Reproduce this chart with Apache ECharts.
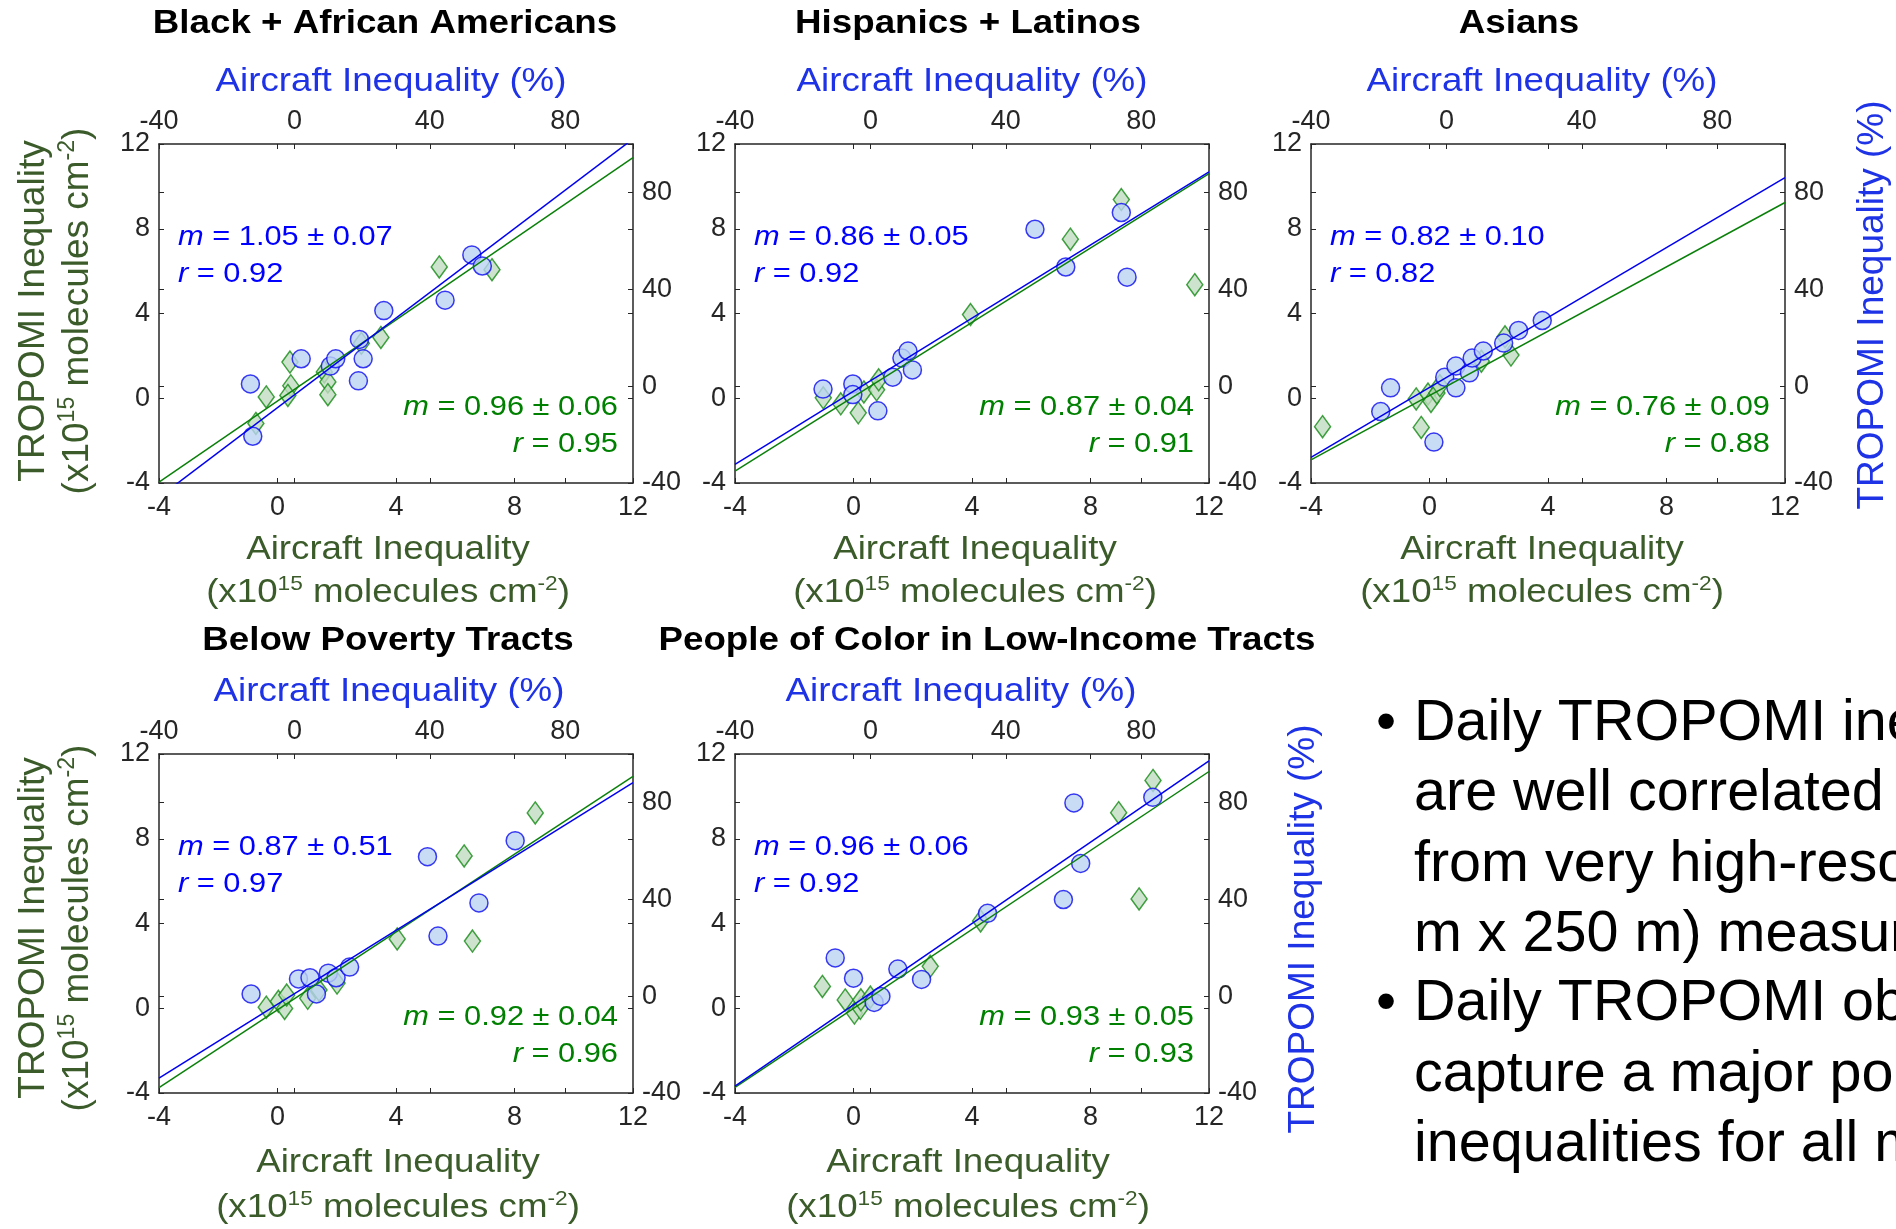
<!DOCTYPE html>
<html><head><meta charset="utf-8">
<script src="https://cdn.jsdelivr.net/npm/echarts@6/dist/echarts.min.js"></script>
<style>html,body{margin:0;padding:0;background:#fff}#c{width:1896px;height:1229px}</style>
</head><body><div id="c"></div>
<script>
// ---------------- DATA ----------------
const panelTitles = ['Black + African Americans', 'Hispanics + Latinos', 'Asians', 'Below Poverty Tracts', 'People of Color in Low-Income Tracts'];
const molTicks = [-4, 0, 4, 8, 12];          // x10^15 molecules cm^-2 (bottom / left axes)
const pctTicks = [-40, 0, 40, 80];           // % (top / right axes)
const pctMax = 100;

// Panel 1: Black + African Americans
const p1GreenX = [-0.73, -0.38, 0.42, 0.45, 0.35, 1.58, 1.70, 1.70, 2.83, 3.49, 5.46, 7.24];
const p1GreenY = [-1.19, 0.06, 1.71, 0.59, 0.13, 1.24, 0.77, 0.17, 2.59, 2.87, 6.20, 6.07];
const p1BlueX  = [-13.0, -12.3, 2.0, 10.6, 12.2, 19.2, 18.9, 20.3, 26.4, 44.5, 52.4, 55.5];
const p1BlueY  = [0.9, -20.7, 11.3, 8.3, 11.3, 19.3, 2.2, 11.3, 31.2, 35.5, 54.2, 49.6];
// Panel 2: Hispanics + Latinos
const p2GreenX = [-1.02, -0.43, 0.16, 0.35, 0.78, 0.85, 3.95, 7.32, 9.04, 11.52];
const p2GreenY = [0.02, -0.26, -0.69, 0.30, 0.40, 0.87, 3.95, 7.51, 9.38, 5.36];
const p2BlueX  = [-14.0, -5.2, -5.2, 2.2, 6.6, 9.3, 11.1, 12.4, 48.6, 57.7, 74.1, 75.8];
const p2BlueY  = [-1.2, 0.9, -3.5, -10.2, 3.7, 11.6, 14.5, 6.7, 64.8, 49.2, 71.7, 45.0];
// Panel 3: Asians
const p3GreenX = [-3.61, -0.45, -0.28, -0.05, 0.05, 0.25, 0.35, 1.75, 2.55, 2.75];
const p3GreenY = [-1.34, -0.03, -1.38, 0.20, -0.15, 0.25, 0.60, 1.75, 2.90, 2.04];
const p3BlueX  = [-19.4, -16.5, -3.7, -0.5, 2.8, 2.8, 6.8, 7.6, 10.9, 16.9, 21.3, 28.3];
const p3BlueY  = [-10.5, -0.7, -23.1, 3.7, 8.3, -0.7, 5.5, 11.6, 14.5, 17.8, 23.0, 27.1];
// Panel 4: Below Poverty Tracts
const p4GreenX = [-0.38, 0.03, 0.24, 0.31, 1.02, 1.40, 2.01, 4.04, 6.30, 6.58, 8.70];
const p4GreenY = [0.05, 0.33, -0.01, 0.62, 0.47, 0.86, 1.19, 3.27, 7.19, 3.17, 9.22];
const p4BlueX  = [-12.8, 1.2, 4.6, 6.5, 10.0, 12.3, 16.3, 39.3, 42.4, 54.5, 65.2];
const p4BlueY  = [0.9, 7.1, 7.6, 0.9, 9.5, 7.6, 12.0, 57.6, 24.8, 38.5, 64.2];
// Panel 5: People of Color in Low-Income Tracts
const p5GreenX = [-1.05, -0.28, 0.03, 0.23, 0.25, 0.57, 2.59, 4.29, 8.95, 9.64, 10.11];
const p5GreenY = [1.03, 0.39, -0.23, 0.00, 0.40, 0.53, 1.98, 4.12, 9.23, 5.16, 10.75];
const p5BlueX  = [-10.4, -5.0, 1.1, 3.1, 8.1, 15.1, 34.6, 57.0, 60.1, 62.1, 83.4];
const p5BlueY  = [15.8, 7.4, -2.6, -0.1, 11.2, 6.9, 34.2, 39.9, 79.8, 54.8, 82.1];

// Fit lines (slope, intercept)
const greenFitSlope = [0.957, 0.878, 0.759, 0.918, 0.932];
const greenFitIntercept = [-0.13, 0.07, 0.13, -0.07, -0.01];
const blueFitSlope = [1.057, 0.863, 0.825, 0.872, 0.960];
const blueFitIntercept = [-3.6, 2.2, 3.6, 1.0, 1.2];

// Annotations: [m, ±, r]
const blueStats  = [['1.05', '0.07', '0.92'], ['0.86', '0.05', '0.92'], ['0.82', '0.10', '0.82'], ['0.87', '0.51', '0.97'], ['0.96', '0.06', '0.92']];
const greenStats = [['0.96', '0.06', '0.95'], ['0.87', '0.04', '0.91'], ['0.76', '0.09', '0.88'], ['0.92', '0.04', '0.96'], ['0.93', '0.05', '0.93']];

const bulletLines = [
  ['• ', 'Daily TROPOMI inequalities'],
  ['', 'are well correlated with those'],
  ['', 'from very high-resolution (250'],
  ['', 'm x 250 m) measurements'],
  ['• ', 'Daily TROPOMI observations'],
  ['', 'capture a major portion of'],
  ['', 'inequalities for all metrics']
];

// ---------------- LAYOUT / STYLE ----------------
const FONT = "'Liberation Sans', Arial, Helvetica, sans-serif";
const FRAME = '#262626';
const BLUE_T = '#1e32e6';
const GREEN_T = '#3b5c2a';
const W = 474, H = 339;
const layout = [
  {left: 159, top: 144, titleX: 385, topTitleX: 391, botTitleX: 388},
  {left: 735, top: 144, titleX: 968, topTitleX: 972, botTitleX: 975},
  {left: 1311, top: 144, titleX: 1519, topTitleX: 1542, botTitleX: 1542},
  {left: 159, top: 754, titleX: 388, topTitleX: 389, botTitleX: 398},
  {left: 735, top: 754, titleX: 987, topTitleX: 961, botTitleX: 968}
];
const panelData = [
  [p1GreenX, p1GreenY, p1BlueX, p1BlueY],
  [p2GreenX, p2GreenY, p2BlueX, p2BlueY],
  [p3GreenX, p3GreenY, p3BlueX, p3BlueY],
  [p4GreenX, p4GreenY, p4BlueX, p4BlueY],
  [p5GreenX, p5GreenY, p5BlueX, p5BlueY]
];

const grids = [], xAxes = [], yAxes = [], series = [], graphics = [];
const molMin = molTicks[0], molMax = molTicks[molTicks.length - 1];
const pctMin = pctTicks[0];

function lbl(show, margin, ticks) {
  return {show: show, fontSize: 27, fontFamily: FONT, color: FRAME, margin: margin,
    formatter: v => (ticks.indexOf(v) >= 0 ? String(v) : '')};
}
const tickSty = {show: true, inside: true, length: 5, lineStyle: {color: FRAME, width: 1}};
function axLine(show) { return {show: show, onZero: false, lineStyle: {color: FRAME, width: 1.5}}; }

function supRich(size) {
  return {
    sup: {fontSize: Math.round(size * 0.62), fontFamily: FONT, verticalAlign: 'top', lineHeight: Math.round(size * 0.62)},
    it: {fontSize: size, fontFamily: FONT, fontStyle: 'italic'}
  };
}
function text(x, y, str, o) {
  o = o || {};
  const size = o.size || 34;
  return {
    type: 'text', x: x, y: y, silent: true, z: 100,
    rotation: o.rot || 0, scaleX: o.sx || 1, scaleY: o.sy || 1,
    style: {
      text: str, fill: o.color || '#000', fontSize: size, fontFamily: FONT,
      fontWeight: o.bold ? 'bold' : 'normal', lineHeight: Math.round(size * 1.15),
      align: o.align || 'center', textAlign: o.align || 'center',
      verticalAlign: 'middle', textVerticalAlign: 'middle',
      rich: supRich(size)
    }
  };
}

panelData.forEach((d, i) => {
  const L = layout[i];
  grids.push({left: L.left, top: L.top, width: W, height: H, containLabel: false, outerBoundsMode: 'none', show: false});
  const base = {type: 'value', gridIndex: i, splitLine: {show: false}, axisPointer: {show: false}};
  // x axes: 4i mol bottom, 4i+1 pct top, 4i+2 mol top mirror, 4i+3 pct bottom mirror
  xAxes.push(Object.assign({}, base, {position: 'bottom', min: molMin, max: molMax, interval: 4,
    axisLine: axLine(true), axisTick: tickSty, axisLabel: lbl(true, 11, molTicks)}));
  xAxes.push(Object.assign({}, base, {position: 'top', min: pctMin, max: pctMax, interval: 40,
    axisLine: axLine(true), axisTick: tickSty, axisLabel: lbl(true, 9, pctTicks)}));
  xAxes.push(Object.assign({}, base, {position: 'top', min: molMin, max: molMax, interval: 4,
    axisLine: axLine(false), axisTick: tickSty, axisLabel: {show: false}}));
  xAxes.push(Object.assign({}, base, {position: 'bottom', min: pctMin, max: pctMax, interval: 40,
    axisLine: axLine(false), axisTick: tickSty, axisLabel: {show: false}}));
  // y axes: 4i mol left, 4i+1 pct right, 4i+2 mol right mirror, 4i+3 pct left mirror
  yAxes.push(Object.assign({}, base, {position: 'left', min: molMin, max: molMax, interval: 4,
    axisLine: axLine(true), axisTick: tickSty, axisLabel: lbl(true, 9, molTicks)}));
  yAxes.push(Object.assign({}, base, {position: 'right', min: pctMin, max: pctMax, interval: 40,
    axisLine: axLine(true), axisTick: tickSty, axisLabel: lbl(true, 9, pctTicks)}));
  yAxes.push(Object.assign({}, base, {position: 'right', min: molMin, max: molMax, interval: 4,
    axisLine: axLine(false), axisTick: tickSty, axisLabel: {show: false}}));
  yAxes.push(Object.assign({}, base, {position: 'left', min: pctMin, max: pctMax, interval: 40,
    axisLine: axLine(false), axisTick: tickSty, axisLabel: {show: false}}));

  const [gx, gy, bx, by] = d;
  series.push({type: 'scatter', silent: true, xAxisIndex: 4 * i, yAxisIndex: 4 * i, z: 2,
    data: gx.map((x, k) => [x, gy[k]]), symbol: 'diamond', symbolSize: [16, 22],
    itemStyle: {color: '#c2dcc2', borderColor: '#138a13', borderWidth: 1.5}});
  series.push({type: 'scatter', silent: true, xAxisIndex: 4 * i + 1, yAxisIndex: 4 * i + 1, z: 3,
    data: bx.map((x, k) => [x, by[k]]), symbol: 'circle', symbolSize: 18,
    itemStyle: {color: '#bcd3f3', borderColor: '#0a0af0', borderWidth: 1.5}});
  const ga = greenFitSlope[i], gb = greenFitIntercept[i];
  series.push({type: 'line', silent: true, xAxisIndex: 4 * i, yAxisIndex: 4 * i, z: 4, clip: true,
    data: [[molMin, ga * molMin + gb], [molMax, ga * molMax + gb]], symbol: 'none', showSymbol: false,
    lineStyle: {color: '#0a800a', width: 1.5}});
  const ba = blueFitSlope[i], bb = blueFitIntercept[i];
  series.push({type: 'line', silent: true, xAxisIndex: 4 * i + 1, yAxisIndex: 4 * i + 1, z: 5, clip: true,
    data: [[pctMin, ba * pctMin + bb], [pctMax, ba * pctMax + bb]], symbol: 'none', showSymbol: false,
    lineStyle: {color: '#0000f0', width: 1.5}});

  // texts
  const rowTitleY = L.top === 144 ? 24 : 641;
  graphics.push(text(L.titleX, rowTitleY, panelTitles[i], {bold: true, size: 34, sx: 1.08}));
  graphics.push(text(L.topTitleX, L.top - 62, 'Aircraft Inequality (%)', {size: 34, sx: 1.08, color: BLUE_T}));
  const b1 = L.top === 144 ? 550 : 1163, b2 = L.top === 144 ? 593 : 1208;
  graphics.push(text(L.botTitleX, b1, 'Aircraft Inequality', {size: 34, sx: 1.08, color: GREEN_T}));
  graphics.push(text(L.botTitleX, b2, '(x10{sup|15} molecules cm{sup|-2})', {size: 34, sx: 1.08, color: GREEN_T}));
  const bs = blueStats[i], gs = greenStats[i];
  graphics.push(text(L.left + 19, L.top + 93, '{it|m} = ' + bs[0] + ' ± ' + bs[1], {size: 28, sx: 1.1, color: '#0000ff', align: 'left'}));
  graphics.push(text(L.left + 19, L.top + 130, '{it|r} = ' + bs[2], {size: 28, sx: 1.1, color: '#0000ff', align: 'left'}));
  graphics.push(text(L.left + W - 15, L.top + 263, '{it|m} = ' + gs[0] + ' ± ' + gs[1], {size: 28, sx: 1.1, color: '#008000', align: 'right'}));
  graphics.push(text(L.left + W - 15, L.top + 300, '{it|r} = ' + gs[2], {size: 28, sx: 1.1, color: '#008000', align: 'right'}));
});

// left (green) axis titles for rows
[311, 928].forEach(yc => {
  graphics.push(text(34, yc, 'TROPOMI Inequality', {size: 37, rot: Math.PI / 2, color: GREEN_T}));
  graphics.push(text(78, yc, '(x10{sup|15} molecules cm{sup|-2})', {size: 37, rot: Math.PI / 2, color: GREEN_T}));
});
// right (blue) axis titles
graphics.push(text(1873, 305, 'TROPOMI Inequality (%)', {size: 37, rot: Math.PI / 2, color: BLUE_T}));
graphics.push(text(1304, 929, 'TROPOMI Inequality (%)', {size: 37, rot: Math.PI / 2, color: BLUE_T}));

// bullet text
const bulletY = [724, 794, 865, 935, 1004, 1075, 1145];
bulletLines.forEach((ln, k) => {
  if (ln[0]) graphics.push(text(1386, bulletY[k], '•', {size: 57.5, align: 'center'}));
  graphics.push(text(1414, bulletY[k], ln[1], {size: 57.5, align: 'left'}));
});

const chart = echarts.init(document.getElementById('c'), null, {renderer: 'canvas', width: 1896, height: 1229});
chart.setOption({
  animation: false,
  backgroundColor: '#ffffff',
  grid: grids,
  xAxis: xAxes,
  yAxis: yAxes,
  series: series,
  graphic: {elements: graphics}
});
</script>
</body></html>
